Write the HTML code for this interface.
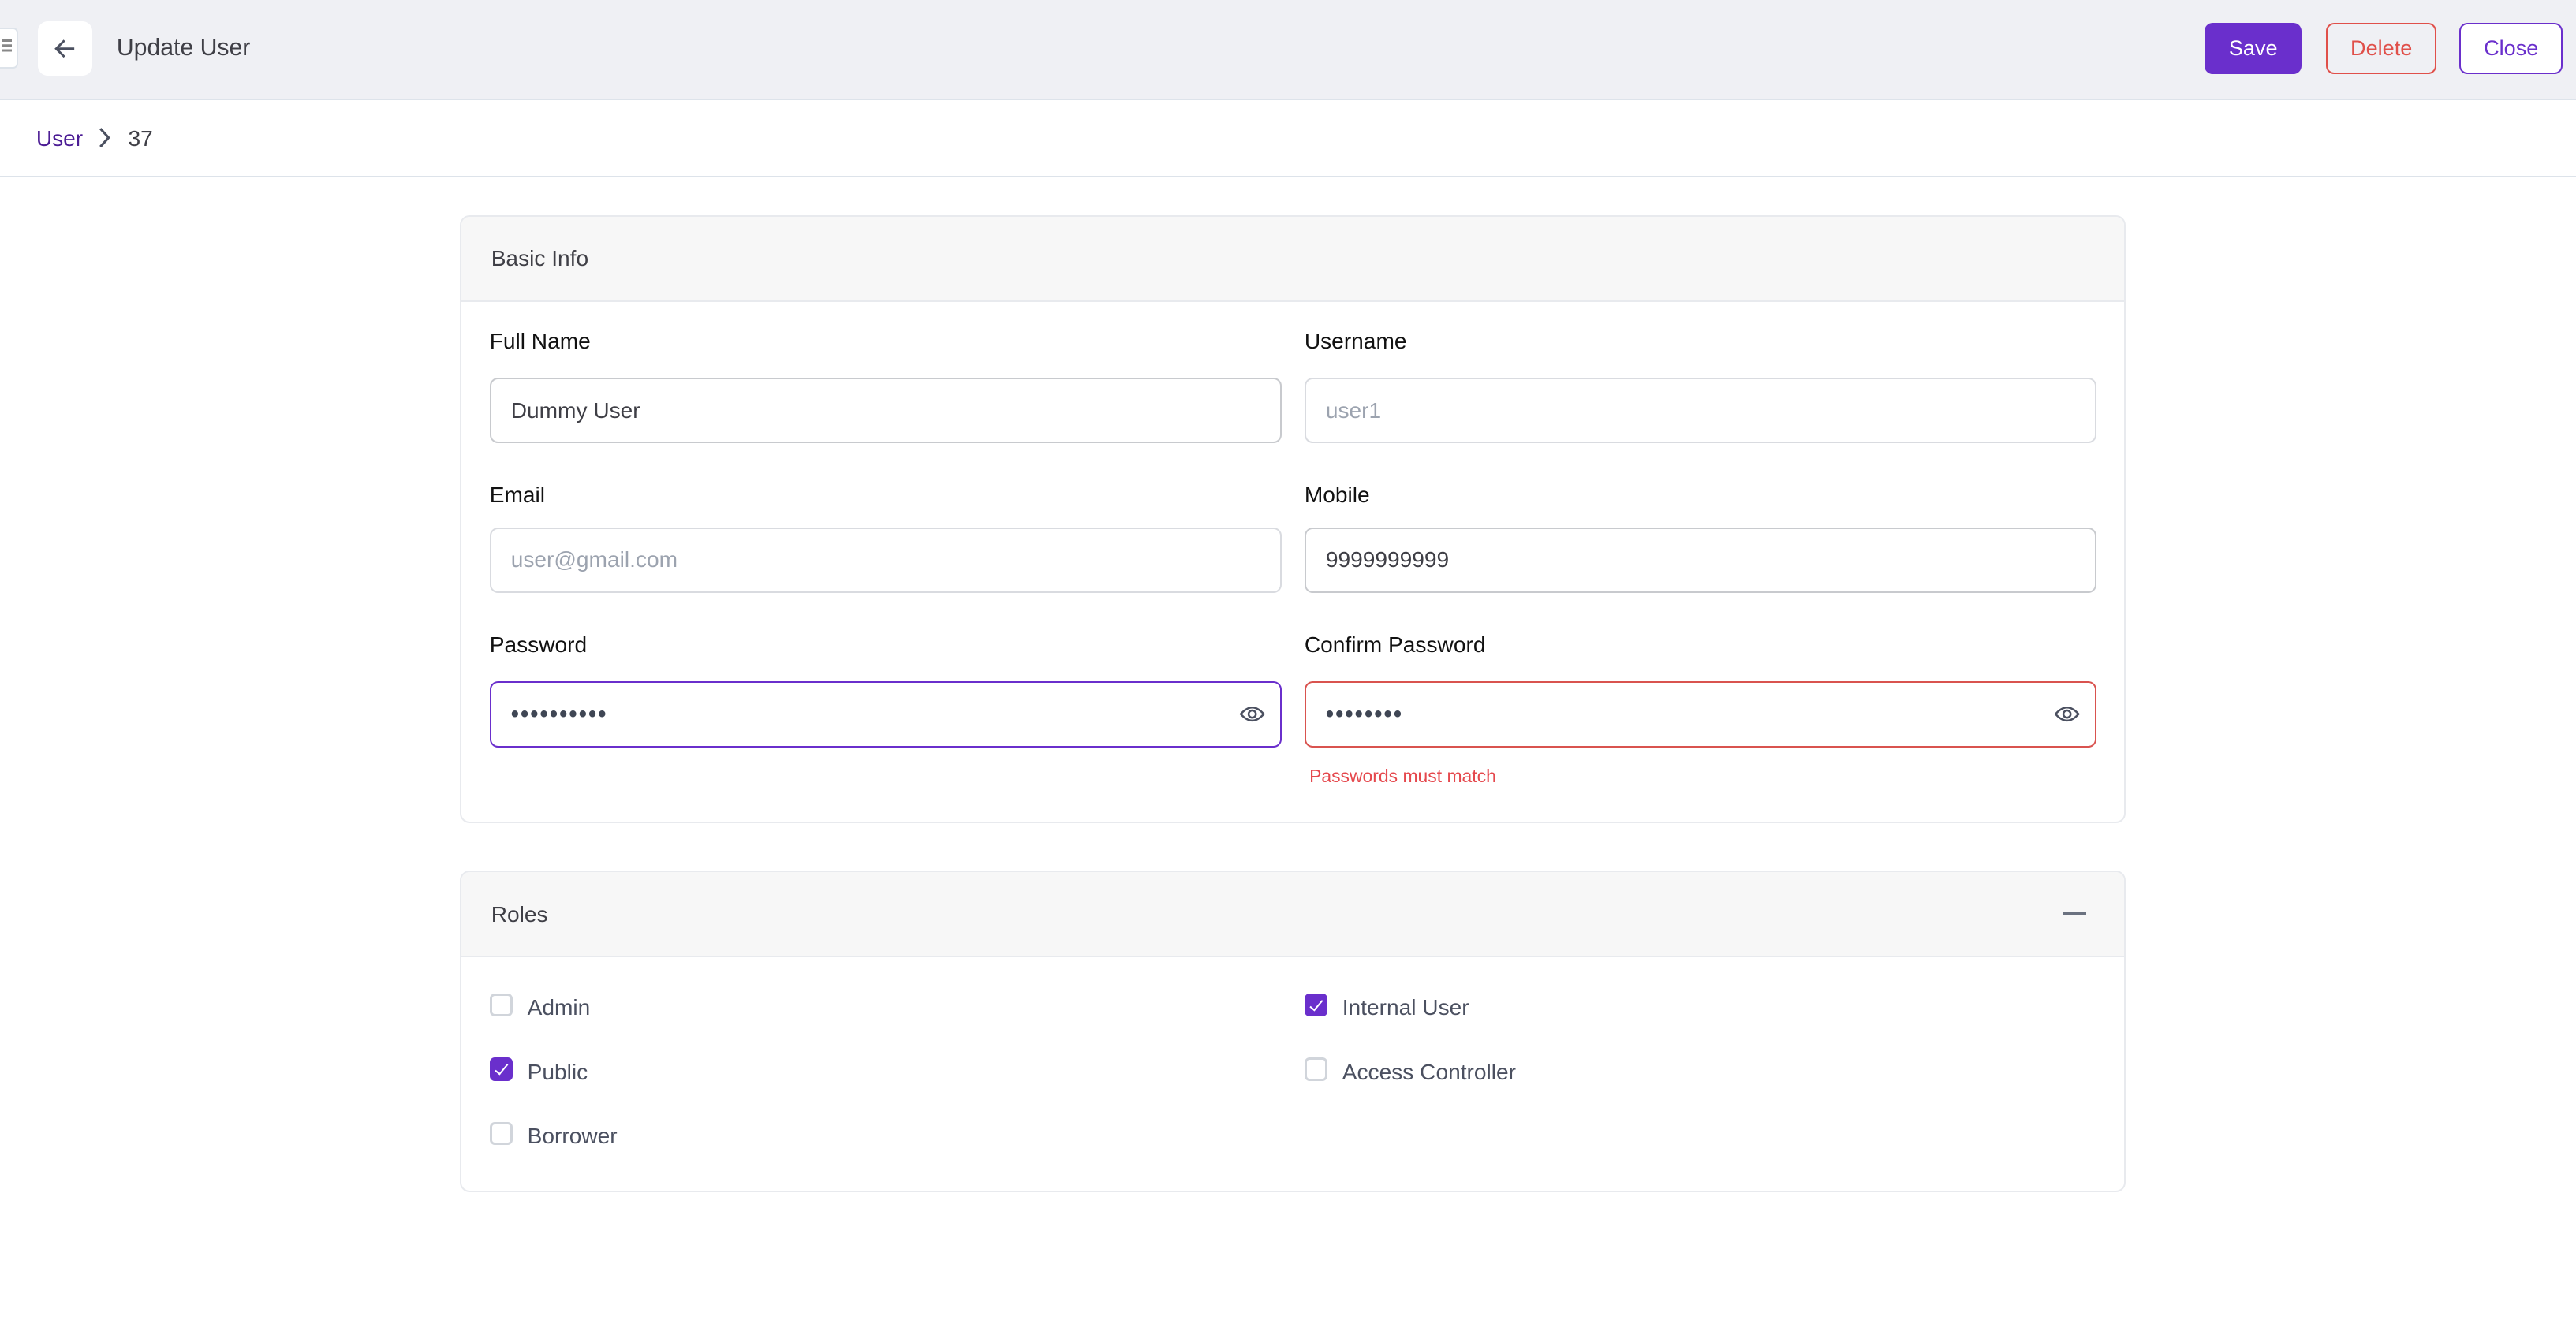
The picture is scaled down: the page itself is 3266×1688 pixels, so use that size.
<!DOCTYPE html>
<html><head><meta charset="utf-8"><style>
html,body{margin:0;padding:0;background:#fff;overflow:hidden}
#r{position:relative;width:1568px;height:810px;zoom:2.08291;font-family:"Liberation Sans",sans-serif;color:#1f2937}
.a{position:absolute}
.t{position:absolute;white-space:nowrap;line-height:1}
.btn{position:absolute;box-sizing:border-box;border-radius:5px;font-size:13px;display:flex;align-items:center;justify-content:center}
.inp{position:absolute;box-sizing:border-box;border:1px solid #d9dbe0;border-radius:5px;height:40px;width:482px;font-size:13.5px;display:flex;align-items:center;padding-left:12px;color:#3f3f46}
.lbl{position:absolute;font-size:13.5px;color:#111;white-space:nowrap;line-height:1}
.card{position:absolute;left:280px;width:1014px;box-sizing:border-box;border:1px solid #e8eaee;border-radius:6px;overflow:hidden}
.ch{height:51px;background:#f7f7f7;border-bottom:1px solid #e8eaee;position:relative}
.cb{position:absolute;width:14px;height:14px;box-sizing:border-box;border:1.5px solid #d1d5db;border-radius:3px}
.cb.on{background:#6a2fcc;border-color:#6a2fcc}
.cb.on:after{content:"";position:absolute;left:4px;top:1px;width:3px;height:7px;border:solid #fff;border-width:0 1px 1px 0;transform:rotate(40deg)}
.cl{position:absolute;font-size:13.5px;color:#4b5060;white-space:nowrap;line-height:1}
.dots{letter-spacing:1px;font-size:14px;color:#3f4654;font-weight:bold}
</style></head><body><div id="r">
<div class="a" style="left:0;top:0;width:1568px;height:60px;background:#eff0f4;border-bottom:1px solid #dde3ea"></div>
<div class="a" style="left:-6px;top:17px;width:15px;height:23px;background:#fff;border:1px solid #dde3ea;border-radius:3px"></div>
<div class="a" style="left:1px;top:24px;width:6px;height:1.5px;background:#888;box-shadow:0 3px 0 #888,0 6px 0 #888"></div>
<div class="a" style="left:23px;top:13px;width:33px;height:33px;background:#fff;border-radius:6px"></div>
<svg class="a" style="left:31px;top:21px" width="17" height="17" viewBox="0 0 17 17"><path d="M14 8.5H3M8 3.5L3 8.5L8 13.5" fill="none" stroke="#4b5060" stroke-width="1.4"/></svg>
<div class="t" style="left:71px;top:22px;font-size:14.5px;color:#3f3f46;font-weight:500">Update User</div>
<div class="btn" style="left:1342px;top:14px;width:59px;height:31px;background:#6a2fcc;color:#fff">Save</div>
<div class="btn" style="left:1416px;top:14px;width:67px;height:31px;border:1px solid #e0504a;color:#e0504a">Delete</div>
<div class="btn" style="left:1497px;top:14px;width:63px;height:31px;border:1px solid #6a2fcc;color:#6a2fcc;background:#fff">Close</div>
<div class="t" style="left:22px;top:78px;font-size:13.5px;color:#4c1d95">User</div>
<svg class="a" style="left:58px;top:77px" width="10" height="14" viewBox="0 0 10 14"><path d="M3 1.5L8 7L3 12.5" fill="none" stroke="#4b5060" stroke-width="1.5"/></svg>
<div class="t" style="left:78px;top:78px;font-size:13.5px;color:#3f3f46">37</div>
<div class="a" style="left:0;top:107px;width:1568px;height:1px;background:#dde3ea"></div>

<div class="card" style="top:131px;height:370px"><div class="ch"><div class="t" style="left:18px;top:19px;font-size:13.5px;color:#3f3f46">Basic Info</div></div></div>
<div class="lbl" style="left:298px;top:201px">Full Name</div>
<div class="lbl" style="left:794px;top:201px">Username</div>
<div class="inp" style="left:298px;top:230px;border-color:#c8cace">Dummy User</div>
<div class="inp" style="left:794px;top:230px;color:#9ca3af">user1</div>
<div class="lbl" style="left:298px;top:295px">Email</div>
<div class="lbl" style="left:794px;top:295px">Mobile</div>
<div class="inp" style="left:298px;top:321px;color:#9ca3af">user@gmail.com</div>
<div class="inp" style="left:794px;top:321px;border-color:#c8cace">9999999999</div>
<div class="lbl" style="left:298px;top:386px">Password</div>
<div class="lbl" style="left:794px;top:386px">Confirm Password</div>
<div class="inp" style="left:298px;top:415px;border-color:#6a2fcc"><span class="dots">••••••••••</span></div>
<div class="inp" style="left:794px;top:415px;border-color:#d9534f"><span class="dots">••••••••</span></div>
<svg class="a" style="left:754px;top:428px" width="16" height="14" viewBox="0 0 16 14"><path d="M1 7Q8 -1 15 7Q8 15 1 7Z" fill="none" stroke="#4b5060" stroke-width="1.2"/><circle cx="8" cy="7" r="2.2" fill="none" stroke="#4b5060" stroke-width="1.2"/></svg>
<svg class="a" style="left:1250px;top:428px" width="16" height="14" viewBox="0 0 16 14"><path d="M1 7Q8 -1 15 7Q8 15 1 7Z" fill="none" stroke="#4b5060" stroke-width="1.2"/><circle cx="8" cy="7" r="2.2" fill="none" stroke="#4b5060" stroke-width="1.2"/></svg>
<div class="t" style="left:797px;top:467px;font-size:11px;color:#e5484d">Passwords must match</div>

<div class="card" style="top:530px;height:196px"><div class="ch"><div class="t" style="left:18px;top:19px;font-size:13.5px;color:#3f3f46">Roles</div><div class="a" style="left:975px;top:24px;width:14px;height:2px;background:#6b7280"></div></div></div>
<div class="cb" style="left:298px;top:605px"></div><div class="cl" style="left:321px;top:607px">Admin</div>
<div class="cb on" style="left:794px;top:605px"></div><div class="cl" style="left:817px;top:607px">Internal User</div>
<div class="cb on" style="left:298px;top:644px"></div><div class="cl" style="left:321px;top:646px">Public</div>
<div class="cb" style="left:794px;top:644px"></div><div class="cl" style="left:817px;top:646px">Access Controller</div>
<div class="cb" style="left:298px;top:683px"></div><div class="cl" style="left:321px;top:685px">Borrower</div>
</div></body></html>
